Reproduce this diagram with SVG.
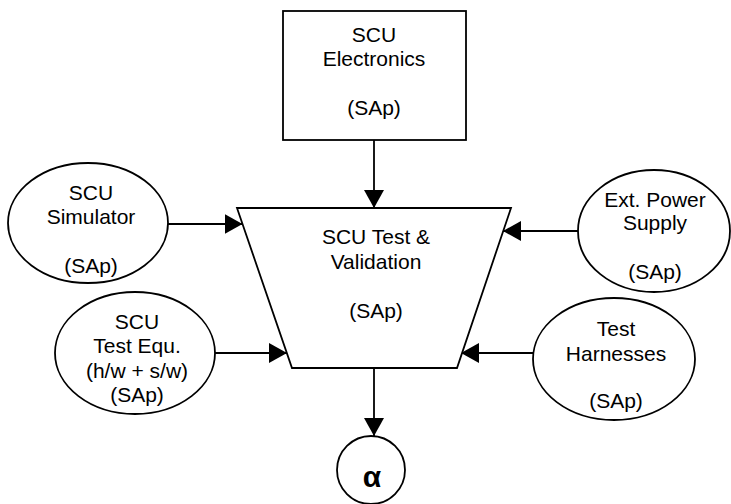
<svg xmlns="http://www.w3.org/2000/svg" width="731" height="504" viewBox="0 0 731 504">
  <style>
    .shape { fill: #ffffff; stroke: #000000; stroke-width: 1.8; }
    .label { font-family: "Liberation Sans", Arial, sans-serif; font-size: 21px; fill: #000000; text-anchor: middle; }
    .alpha { font-family: "Liberation Sans", Arial, sans-serif; font-size: 30px; font-weight: bold; fill: #000000; text-anchor: middle; }
    .link { fill: none; stroke: #000000; stroke-width: 1.8; }
  </style>
  <defs>
    <marker id="arrow" viewBox="0 0 18 20" refX="18" refY="10" markerWidth="18" markerHeight="20" markerUnits="userSpaceOnUse" orient="auto">
      <path d="M0,0 L18,10 L0,20 Z" fill="#000000"/>
    </marker>
  </defs>

  <rect width="731" height="504" fill="#ffffff"/>

  <!-- connectors -->
  <g id="connectors">
    <line class="link" x1="374" y1="140" x2="374" y2="208" marker-end="url(#arrow)"/>
    <line class="link" x1="168" y1="224" x2="242.5" y2="224" marker-end="url(#arrow)"/>
    <line class="link" x1="215" y1="353" x2="287" y2="353" marker-end="url(#arrow)"/>
    <line class="link" x1="578" y1="231" x2="503" y2="231" marker-end="url(#arrow)"/>
    <line class="link" x1="533" y1="353" x2="461" y2="353" marker-end="url(#arrow)"/>
    <line class="link" x1="374" y1="368" x2="374" y2="436" marker-end="url(#arrow)"/>
  </g>

  <!-- SCU Electronics -->
  <g id="scu-electronics">
    <rect class="shape" x="283" y="11" width="183" height="129"/>
    <text class="label" x="374" y="42">SCU</text>
    <text class="label" x="374" y="66">Electronics</text>
    <text class="label" x="374" y="115">(SAp)</text>
  </g>

  <!-- SCU Test & Validation -->
  <g id="scu-test-validation">
    <polygon class="shape" points="237,208 511,208 457,368 292,368"/>
    <text class="label" x="376" y="244">SCU Test &amp;</text>
    <text class="label" x="376" y="269">Validation</text>
    <text class="label" x="376" y="318">(SAp)</text>
  </g>

  <!-- SCU Simulator -->
  <g id="scu-simulator">
    <ellipse class="shape" cx="88" cy="223" rx="80" ry="60"/>
    <text class="label" x="91" y="200">SCU</text>
    <text class="label" x="91" y="224">Simulator</text>
    <text class="label" x="91" y="273">(SAp)</text>
  </g>

  <!-- SCU Test Equipment -->
  <g id="scu-test-equ">
    <ellipse class="shape" cx="135" cy="353" rx="80" ry="61"/>
    <text class="label" x="137" y="329">SCU</text>
    <text class="label" x="137" y="353">Test Equ.</text>
    <text class="label" x="137" y="378">(h/w + s/w)</text>
    <text class="label" x="137" y="402">(SAp)</text>
  </g>

  <!-- Ext. Power Supply -->
  <g id="ext-power-supply">
    <ellipse class="shape" cx="654" cy="231" rx="76" ry="61"/>
    <text class="label" x="655" y="207">Ext. Power</text>
    <text class="label" x="655" y="230">Supply</text>
    <text class="label" x="655" y="279">(SAp)</text>
  </g>

  <!-- Test Harnesses -->
  <g id="test-harnesses">
    <ellipse class="shape" cx="614" cy="359" rx="81" ry="61"/>
    <text class="label" x="616" y="336">Test</text>
    <text class="label" x="616" y="361">Harnesses</text>
    <text class="label" x="616" y="408">(SAp)</text>
  </g>

  <!-- Output: alpha -->
  <g id="alpha">
    <circle class="shape" cx="371" cy="470" r="34"/>
    <text class="alpha" x="372" y="487">α</text>
  </g>
</svg>
